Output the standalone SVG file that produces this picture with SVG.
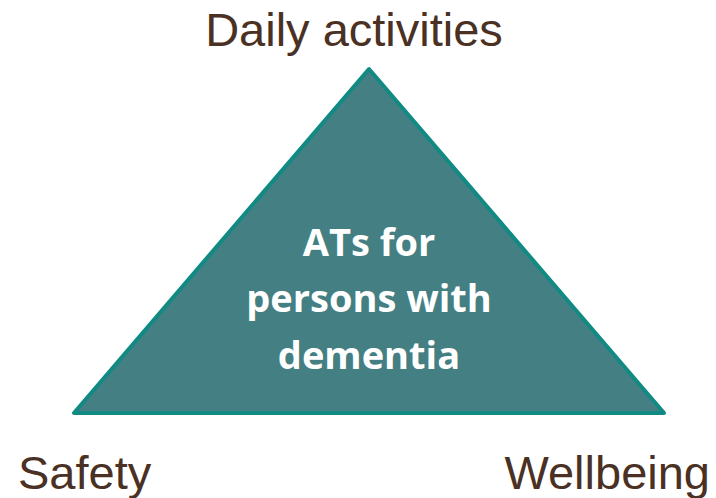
<svg xmlns="http://www.w3.org/2000/svg" width="716" height="498" viewBox="0 0 716 498">
<style>
.lbl{font-family:"Liberation Sans",Arial,sans-serif;font-size:47px;fill:#4a3124}
.ctr{font-family:"Open Sans","DejaVu Sans",sans-serif;font-weight:700;font-size:38px;fill:#ffffff;text-anchor:middle}
</style>
<rect width="716" height="498" fill="#ffffff"/>
<g id="triangle">
<polygon points="369,69 74,413 664,413" fill="#447f83" stroke="#128a84" stroke-width="4" stroke-linejoin="round"/>
<text class="ctr" x="369" y="256">ATs for</text>
<text class="ctr" x="369" y="312">persons with</text>
<text class="ctr" x="369" y="369">dementia</text>
</g>
<g id="daily"><text class="lbl" x="354" y="46" text-anchor="middle">Daily activities</text></g>
<g id="safety"><text class="lbl" x="18" y="489">Safety</text></g>
<g id="wellbeing"><text class="lbl" x="710" y="489" text-anchor="end">Wellbeing</text></g>
<g id="connectors"></g>
</svg>
